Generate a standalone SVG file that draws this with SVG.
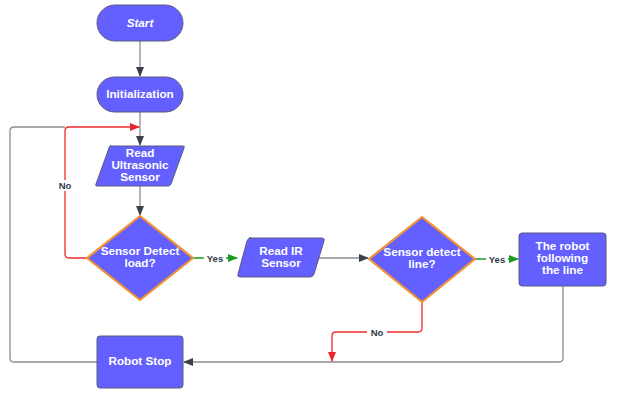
<svg xmlns="http://www.w3.org/2000/svg" width="626" height="402" viewBox="0 0 626 402">
<style>
.node{fill:#6360FF;stroke:#5b5b80;stroke-width:1}
.dec{fill:#6360FF;stroke:#F59331;stroke-width:2.2;stroke-linejoin:round}
.t{font-family:"Liberation Sans",Arial,sans-serif;font-weight:bold;font-size:11.7px;fill:#ffffff;text-anchor:middle}
.g{fill:none;stroke:#8a8d93;stroke-width:1.3}
.r{fill:none;stroke:#EE2B2B;stroke-width:1.3}
.gr{fill:none;stroke:#1A9A22;stroke-width:1.3}
.lbl{font-family:"Liberation Sans",Arial,sans-serif;font-weight:bold;font-size:9.5px;fill:#333a44;text-anchor:middle}
</style>
<defs>
<marker id="ag" markerWidth="10" markerHeight="8" refX="9" refY="4" orient="auto" markerUnits="userSpaceOnUse"><path d="M0,0 L10,4 L0,8 Z" fill="#3a414b"/></marker>
<marker id="ar" markerWidth="10" markerHeight="8" refX="9" refY="4" orient="auto" markerUnits="userSpaceOnUse"><path d="M0,0 L10,4 L0,8 Z" fill="#E8262B"/></marker>
<marker id="agr" markerWidth="10" markerHeight="8" refX="9" refY="4" orient="auto" markerUnits="userSpaceOnUse"><path d="M0,0 L10,4 L0,8 Z" fill="#1A9A22"/></marker>
</defs>
<rect width="626" height="402" fill="#ffffff"/>
<g id="connectors">
<path class="g" d="M140,41 V76" marker-end="url(#ag)"/>
<path class="g" d="M140,112 V145" marker-end="url(#ag)"/>
<path class="g" d="M97,362 H14 Q10,362 10,358 V131 Q10,127 14,127 H65"/>
<path class="r" d="M87,258 H69 Q65,258 65,254 V131 Q65,127 69,127 H139" marker-end="url(#ar)"/>
<path class="g" d="M140,186 V215" marker-end="url(#ag)"/>
<path class="gr" d="M193,258 H237" marker-end="url(#agr)"/>
<path class="g" d="M318,258 H368" marker-end="url(#ag)"/>
<path class="gr" d="M475,259 H518" marker-end="url(#agr)"/>
<path class="g" d="M563,286 V358 Q563,362 559,362 H184" marker-end="url(#ag)"/>
<path class="r" d="M422,302 V328 Q422,332 418,332 H336 Q332,332 332,336 V361" marker-end="url(#ar)"/>
<rect x="54" y="180" width="22" height="11" fill="#ffffff"/>
<text class="lbl" x="65" y="189">No</text>
<rect x="204" y="253" width="22" height="10" fill="#ffffff"/>
<text class="lbl" x="215" y="261.5">Yes</text>
<rect x="486" y="254" width="22" height="10" fill="#ffffff"/>
<text class="lbl" x="497" y="262.5">Yes</text>
<rect x="367" y="327" width="20" height="10" fill="#ffffff"/>
<text class="lbl" x="377" y="335.5">No</text>
</g>
<g id="start">
<rect class="node" x="97" y="5" width="86" height="36" rx="18"/>
<text class="t" x="140" y="26.5" font-style="italic">Start</text>
</g>
<g id="init">
<rect class="node" x="97" y="77" width="86" height="35" rx="17.5"/>
<text class="t" x="140" y="97.5">Initialization</text>
</g>
<g id="read-us">
<path class="node" d="M110,146 H183 Q185,146 184,148 L171,184 Q170,186 168,186 H97 Q95,186 96,184 L109,148 Q109,146 111,146 Z"/>
<text class="t" x="140" y="157">Read</text>
<text class="t" x="140" y="169">Ultrasonic</text>
<text class="t" x="140" y="181">Sensor</text>
</g>
<g id="dec-load">
<path class="dec" d="M140,216 L193,258 L140,300 L87,258 Z"/>
<text class="t" x="140" y="255">Sensor Detect</text>
<text class="t" x="140" y="267">load?</text>
</g>
<g id="read-ir">
<path class="node" d="M249,238 H322 Q325,238 324,241 L314,274 Q313,277 310,277 H240 Q237,277 238,274 L247,241 Q248,238 251,238 Z"/>
<text class="t" x="281" y="255">Read IR</text>
<text class="t" x="281" y="267">Sensor</text>
</g>
<g id="dec-line">
<path class="dec" d="M422,217 L475,259 L422,302 L369,259 Z"/>
<text class="t" x="422" y="256">Sensor detect</text>
<text class="t" x="422" y="268">line?</text>
</g>
<g id="follow">
<rect class="node" x="519" y="233" width="87" height="53" rx="3"/>
<text class="t" x="562.5" y="250">The robot</text>
<text class="t" x="562.5" y="262">following</text>
<text class="t" x="562.5" y="274">the line</text>
</g>
<g id="stop">
<rect class="node" x="97" y="336" width="86" height="52" rx="3"/>
<text class="t" x="140" y="365">Robot Stop</text>
</g>
</svg>
